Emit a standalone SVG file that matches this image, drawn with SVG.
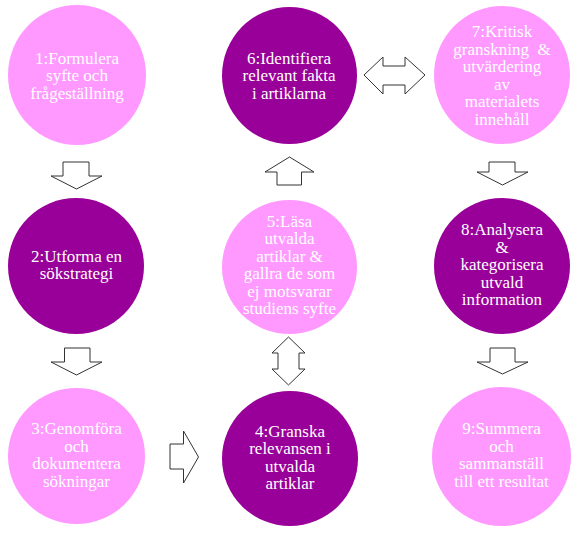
<svg xmlns="http://www.w3.org/2000/svg" width="584" height="539" viewBox="0 0 584 539">
<style>
.light{fill:#FF99FF}
.dark{fill:#990099}
text{font-family:"Liberation Serif","Times New Roman",serif;font-size:17px;fill:#FFFFFF;text-anchor:middle}
.arr{fill:#FFFFFF;stroke:#333333;stroke-width:1;stroke-linejoin:miter}
</style>
<rect width="584" height="539" fill="#FFFFFF"/>
<g id="node1"><ellipse class="light" cx="77" cy="75" rx="69" ry="70"/>
<text x="77" y="63.5">1:Formulera</text><text x="77" y="81">syfte och</text><text x="77" y="98.5">frågeställning</text></g>
<g id="node6"><ellipse class="dark" cx="289.5" cy="75.5" rx="67.5" ry="68.5"/>
<text x="289" y="63.5">6:Identifiera</text><text x="289" y="81">relevant fakta</text><text x="289" y="98.5">i artiklarna</text></g>
<g id="node7"><ellipse class="light" cx="502" cy="75" rx="68" ry="69"/>
<text x="502" y="37">7:Kritisk</text><text x="502" y="54.5" xml:space="preserve">granskning  &amp;</text><text x="502" y="72">utvärdering</text><text x="502" y="89.5">av</text><text x="502" y="107">materialets</text><text x="502" y="124.5">innehåll</text></g>
<g id="node2"><ellipse class="dark" cx="76" cy="266" rx="68" ry="68"/>
<text x="76.5" y="261.5">2:Utforma en</text><text x="76.5" y="279">sökstrategi</text></g>
<g id="node5"><ellipse class="light" cx="289.5" cy="267" rx="67.5" ry="67"/>
<text x="289.5" y="226.7">5:Läsa</text><text x="289.5" y="244.2">utvalda</text><text x="289.5" y="261.7">artiklar &amp;</text><text x="289.5" y="279.2">gallra de som</text><text x="289.5" y="296.7">ej motsvarar</text><text x="289.5" y="314.2">studiens syfte</text></g>
<g id="node8"><ellipse class="dark" cx="502" cy="266" rx="68" ry="68"/>
<text x="502" y="235">8:Analysera</text><text x="502" y="252.5">&amp;</text><text x="502" y="270">kategorisera</text><text x="502" y="287.5">utvald</text><text x="502" y="305">information</text></g>
<g id="node3"><ellipse class="light" cx="76.5" cy="456" rx="68.5" ry="68"/>
<text x="76.5" y="434">3:Genomföra</text><text x="76.5" y="451.5">och</text><text x="76.5" y="469">dokumentera</text><text x="76.5" y="486.5">sökningar</text></g>
<g id="node4"><ellipse class="dark" cx="290" cy="458.5" rx="68" ry="67.5"/>
<text x="290" y="436.5">4:Granska</text><text x="290" y="454">relevansen i</text><text x="290" y="471.5">utvalda</text><text x="290" y="489">artiklar</text></g>
<g id="node9"><ellipse class="light" cx="501.5" cy="456.5" rx="69.5" ry="69.5"/>
<text x="501.5" y="434">9:Summera</text><text x="501.5" y="451.5">och</text><text x="501.5" y="469">sammanställ</text><text x="501.5" y="486.5">till ett resultat</text></g>
<g id="connectors">
<polygon class="arr" points="63,162 89,162 89,176 102,176 76.5,189 51,176 63,176"/>
<polygon class="arr" points="64.5,348 90,348 90,362 102,362 76.5,375 51,362 64.5,362"/>
<polygon class="arr" points="170,444 183.5,444 183.5,431 198.5,457 183.5,483 183.5,469 170,469"/>
<polygon class="arr" points="288.5,337 305,353 299,353 299,369 305,369 288.5,385 272,369 278,369 278,353 272,353"/>
<polygon class="arr" points="289.5,157 314,172 301.5,172 301.5,185 277,185 277,172 265,172"/>
<polygon class="arr" points="364,75 383,57 383,66 405,66 405,57 425,75 405,94 405,85 383,85 383,94"/>
<polygon class="arr" points="489,162 515,162 515,172 528,172 502.5,185 477,172 489,172"/>
<polygon class="arr" points="490,348 515,348 515,362 528,362 502.5,374 477,362 490,362"/>
</g>
</svg>
